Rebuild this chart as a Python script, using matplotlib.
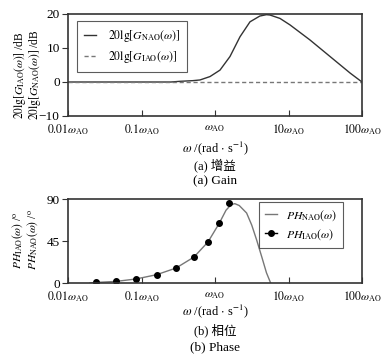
import matplotlib
matplotlib.use("Agg")
import matplotlib.pyplot as plt
import numpy as np

plt.rcParams['font.family'] = ['Liberation Serif', 'Noto Sans CJK SC', 'DejaVu Sans']
plt.rcParams['mathtext.fontset'] = 'stix'
plt.rcParams['axes.unicode_minus'] = True

# ---- data (log10 of omega/omega_AO) ----
gain_logw = [-2.0, -1.0, -0.6, -0.476, -0.3, -0.204, -0.068, 0.068, 0.204, 0.34, 0.476,
             0.61, 0.70, 0.748, 0.884, 1.02, 1.29, 1.565, 1.84, 2.0]
gain_nao = [0.0, 0.0, 0.0, 0.2, 0.4, 0.6, 1.6, 3.5, 7.5, 13.3, 17.7,
            19.4, 19.8, 19.7, 18.7, 16.8, 12.4, 7.5, 2.6, 0.0]
gain_iao_logw = [-2.0, 2.0]
gain_iao = [0.0, 0.0]

phase_logw = [-1.7, -1.619, -1.347, -1.075, -0.794, -0.531, -0.286, -0.095, 0.058,
              0.15, 0.22, 0.27, 0.33, 0.43, 0.50, 0.567, 0.64, 0.70, 0.757]
phase_nao = [0.0, 0.6, 1.7, 4.3, 8.9, 16.0, 27.8, 44.0, 64.0,
             78.0, 84.0, 85.0, 83.0, 75.0, 62.0, 46.0, 27.0, 11.0, 0.0]
phase_iao_logw = [-1.619, -1.347, -1.075, -0.794, -0.531, -0.286, -0.095, 0.058, 0.194]
phase_iao = [0.6, 1.7, 4.3, 8.9, 16.0, 27.8, 44.0, 64.0, 86.0]

xticks = [0.01, 0.1, 1, 10, 100]
xticklabels = [r'$0.01\omega_{\mathrm{AO}}$', r'$0.1\omega_{\mathrm{AO}}$', r'$\omega_{\mathrm{AO}}$',
               r'$10\omega_{\mathrm{AO}}$', r'$100\omega_{\mathrm{AO}}$']

fig = plt.figure(figsize=(3.84, 3.56), dpi=100)
W, H = 384, 356
def rect(l, t, r, b):
    return [l / W, 1 - b / H, (r - l) / W, (b - t) / H]
def fx(px):
    return px / W
def fy(py):
    return 1 - py / H

ax1 = fig.add_axes(rect(68, 14, 362, 116))
ax2 = fig.add_axes(rect(68, 199, 362, 283))

fs = 9.5
for ax in (ax1, ax2):
    ax.set_xscale('log')
    ax.set_xlim(0.01, 100)
    ax.set_xticks(xticks)
    ax.set_xticklabels(xticklabels, fontsize=8.4)
    ax.minorticks_off()
    ax.tick_params(axis='x', direction='in', length=4, width=0.8, color='#333333', pad=4.5)
    ax.tick_params(axis='y', direction='out', length=4, width=0.8, color='#333333', labelsize=fs, pad=2)
    for s in ax.spines.values():
        s.set_linewidth(1.2)
        s.set_color('#333333')

w_nao = [10 ** v for v in gain_logw]
w_iao = [10 ** v for v in gain_iao_logw]
ax1.plot(w_nao, gain_nao, color='#333333', lw=1.0, label=r'$20\mathrm{lg}[G_{\mathrm{NAO}}(\omega)]$')
ax1.plot(w_iao, gain_iao, color='#777777', lw=1.0, ls=(0, (3, 2)), label=r'$20\mathrm{lg}[G_{\mathrm{IAO}}(\omega)]$')
ax1.set_ylim(-10, 20)
ax1.set_yticks([-10, 0, 10, 20])
leg1 = ax1.legend(loc='upper left', bbox_to_anchor=(fx(77), fy(21)), bbox_transform=fig.transFigure,
                  fontsize=8.5, frameon=True, fancybox=False, borderaxespad=0,
                  edgecolor='#333333', handlelength=1.0, borderpad=0.6, labelspacing=0.4, handletextpad=1.0)
leg1.get_frame().set_linewidth(0.8)

wp = [10 ** v for v in phase_logw]
wpi = [10 ** v for v in phase_iao_logw]
ln_nao, = ax2.plot(wp, phase_nao, color='#777777', lw=1.0)
ax2.plot(wpi, phase_iao, color='black', lw=0, marker='o', ms=4)
ax2.set_ylim(0, 90)
ax2.set_yticks([0, 45, 90])
h1, = ax2.plot([], [], color='black', lw=1.0, marker='o', ms=4)
leg2 = ax2.legend([ln_nao, h1], [r'$PH_{\mathrm{NAO}}(\omega)$', r'$PH_{\mathrm{IAO}}(\omega)$'],
                  loc='upper left', bbox_to_anchor=(fx(259), fy(202)), bbox_transform=fig.transFigure,
                  fontsize=8.5, frameon=True, fancybox=False, borderaxespad=0,
                  edgecolor='#333333', handlelength=1.0, borderpad=0.5, labelspacing=0.4, handletextpad=0.8)
leg2.get_frame().set_linewidth(0.8)

# y labels (two rotated lines each)
yl = 8.3
fig.text(fx(20.0), fy(75), r'$20\mathrm{lg}[G_{\mathrm{IAO}}(\omega)]$ /dB', rotation=90, ha='center', va='center', fontsize=yl)
fig.text(fx(35.0), fy(75), r'$20\mathrm{lg}[G_{\mathrm{NAO}}(\omega)]$ /dB', rotation=90, ha='center', va='center', fontsize=yl)
fig.text(fx(18.0), fy(240), r'$PH_{\mathrm{IAO}}(\omega)$ /$^{\mathrm{o}}$', rotation=90, ha='center', va='center', fontsize=yl)
fig.text(fx(33.0), fy(240), r'$PH_{\mathrm{NAO}}(\omega)$ /$^{\mathrm{o}}$', rotation=90, ha='center', va='center', fontsize=yl)

cx = fx((68 + 362) / 2)
xl = r'$\omega$ /(rad $\cdot$ s$^{-1}$)'
fig.text(cx, fy(148), xl, ha='center', va='center', fontsize=9)
fig.text(cx, fy(165), '(a) 增益', ha='center', va='center', fontsize=9)
fig.text(cx, fy(181.5), '(a) Gain', ha='center', va='center', fontsize=9.5)
fig.text(cx, fy(311.5), xl, ha='center', va='center', fontsize=9)
fig.text(cx, fy(330), '(b) 相位', ha='center', va='center', fontsize=9)
fig.text(cx, fy(347), '(b) Phase', ha='center', va='center', fontsize=9.5)

fig.savefig('out.png', dpi=100)
